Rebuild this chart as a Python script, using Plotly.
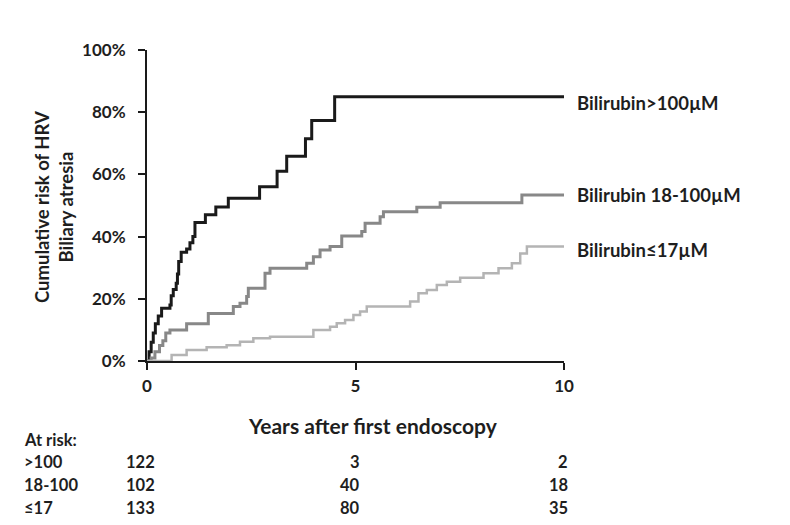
import plotly.graph_objects as go

# Data
t_high = [0, 0.05, 0.1, 0.15, 0.2, 0.27, 0.35, 0.55, 0.58, 0.63, 0.7, 0.73, 0.76, 0.82, 0.95, 1.03, 1.1, 1.15, 1.4, 1.65, 1.95, 2.7, 3.12, 3.35, 3.8, 3.95, 4.5, 10]
r_high = [0, 3, 6, 9, 12, 14.5, 17, 18, 21, 23, 25, 28, 32, 35, 36, 38, 40, 44.5, 47, 49.5, 52.3, 56, 61, 65.8, 71.5, 77.3, 85, 85]

t_mid = [0, 0.1, 0.19, 0.3, 0.38, 0.45, 0.55, 0.95, 1.47, 2.07, 2.23, 2.39, 2.43, 2.83, 2.95, 3.83, 3.99, 4.15, 4.39, 4.67, 5.15, 5.23, 5.59, 5.67, 6.47, 7.03, 8.99, 10]
r_mid = [0, 1, 3, 5, 6.5, 9, 10, 12, 15.3, 17.5, 18.6, 20.7, 23.4, 28.2, 29.8, 31.4, 33.5, 35.7, 36.8, 40.2, 41.6, 44.3, 46.4, 48, 49.4, 50.9, 53.4, 53.4]

t_low = [0, 0.59, 0.95, 1.43, 1.91, 2.23, 2.55, 2.95, 3.99, 4.39, 4.55, 4.75, 4.95, 5.11, 5.27, 6.31, 6.51, 6.71, 6.95, 7.19, 7.51, 8.07, 8.43, 8.75, 8.95, 9.11, 10]
r_low = [0, 1.9, 3.5, 4.4, 5.1, 6.2, 7.3, 7.8, 10, 11, 12.1, 13.2, 14.8, 15.9, 17.5, 19.1, 21.8, 22.8, 24.4, 25.5, 26.8, 28.2, 29.8, 31.4, 34.6, 36.8, 36.8]

series_names = ["Bilirubin>100µM", "Bilirubin 18-100µM", "Bilirubin≤17µM"]
label_y = [83, 53.5, 35.7]

risk_times = [0, 5, 10]
risk_groups = [">100", "18-100", "≤17"]
risk_counts = [[122, 3, 2], [102, 40, 18], [133, 80, 35]]

x_ticks = [0, 5, 10]
y_ticks = [0, 20, 40, 60, 80, 100]

FONT = "Lato"
TXT = "#1e1e1e"

# plot area in page pixels: x 147..564, y 50..361 (page has an 8px body margin)
PL, PT, PW, PH = 147, 50, 417, 311
OFF = 8
W, H = 790 - OFF, 525 - OFF

def px(xpix):
    return (xpix - PL) / PW

def py(ypix):
    return (PT + PH - ypix) / PH

fig = go.Figure()
styles = [dict(color="#1a1a1a", width=3), dict(color="#888888", width=3), dict(color="#b4b4b4", width=2.5)]
for (t, r), st in zip([(t_high, r_high), (t_mid, r_mid), (t_low, r_low)], styles):
    fig.add_trace(go.Scatter(x=t, y=r, mode="lines", line=dict(shape="hv", **st), showlegend=False, hoverinfo="skip"))

ann = []
for name, yv in zip(series_names, label_y):
    ann.append(dict(text="<b>%s</b>" % name, x=px(575), xref="paper", y=yv, yref="y", xanchor="left", yanchor="middle",
                    showarrow=False, font=dict(family=FONT, size=18.5, color=TXT)))

ann.append(dict(text="<b>Cumulative risk of HRV<br>Biliary atresia</b>", x=px(54), xref="paper", y=py(207), yref="paper",
                textangle=-90, showarrow=False, xanchor="center", yanchor="middle",
                font=dict(family=FONT, size=18.5, color=TXT)))
ann.append(dict(text="<b>Years after first endoscopy</b>", x=px(373), xref="paper", y=py(425), yref="paper", showarrow=False,
                xanchor="center", yanchor="middle", font=dict(family=FONT, size=21, color=TXT)))
ann.append(dict(text="<b>At risk:</b>", x=px(22), xref="paper", y=py(440), yref="paper", showarrow=False,
                xanchor="left", yanchor="middle", font=dict(family=FONT, size=16.5, color=TXT)))
row_y = [462, 485, 508]
for g, counts, yy in zip(risk_groups, risk_counts, row_y):
    ann.append(dict(text="<b>%s</b>" % g, x=px(22), xref="paper", y=py(yy), yref="paper", showarrow=False,
                    xanchor="left", yanchor="middle", font=dict(family=FONT, size=16.5, color=TXT)))
    for tx, c in zip(risk_times, counts):
        ann.append(dict(text="<b>%d</b>" % c, x=tx, xref="x", y=py(yy), yref="paper", showarrow=False,
                        xanchor="right", xshift=10 if tx == 0 else 6, yanchor="middle",
                        font=dict(family=FONT, size=16.5, color=TXT)))

fig.update_layout(
    width=W, height=H,
    margin=dict(l=PL - OFF, r=W - (PL - OFF) - PW, t=PT - OFF, b=H - (PT - OFF) - PH),
    paper_bgcolor="white", plot_bgcolor="white",
    annotations=ann,
    xaxis=dict(range=[0, 10], tickvals=x_ticks, ticktext=["<b>%d</b>" % v for v in x_ticks],
               showline=True, linecolor="#1a1a1a", linewidth=2, ticks="outside", ticklen=7, tickwidth=2,
               tickcolor="#1a1a1a", showgrid=False, zeroline=False, ticklabelstandoff=2,
               tickfont=dict(family=FONT, size=17, color=TXT)),
    yaxis=dict(range=[0, 100], tickvals=y_ticks, ticktext=["<b>%d%%</b>" % v for v in y_ticks],
               showline=True, linecolor="#1a1a1a", linewidth=2, ticks="outside", ticklen=7, tickwidth=2,
               tickcolor="#1a1a1a", showgrid=False, zeroline=False, ticklabelstandoff=9,
               tickfont=dict(family=FONT, size=17, color=TXT)),
)

fig.write_html("out.html")
